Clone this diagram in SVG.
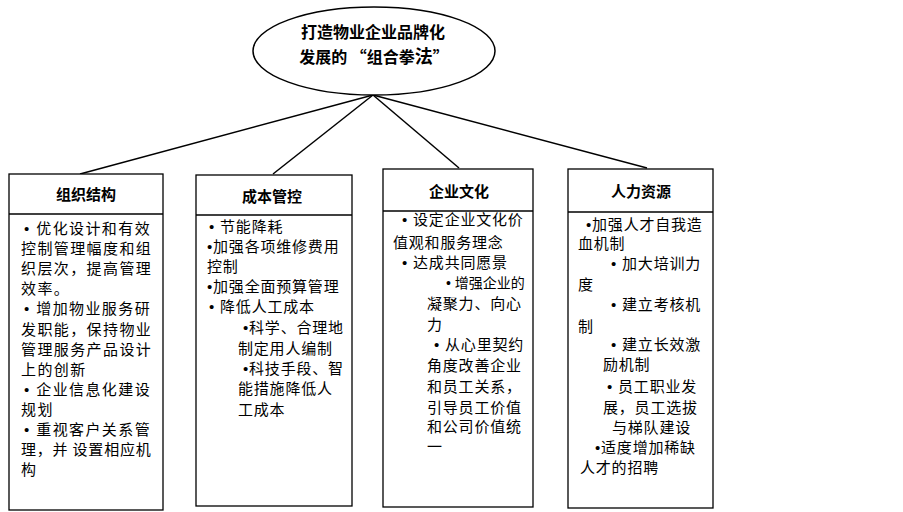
<svg xmlns="http://www.w3.org/2000/svg" width="903" height="512" viewBox="0 0 903 512">
<style>
text{font-family:"Noto Sans CJK SC","Liberation Sans",sans-serif;fill:#000}
.bl{font-family:"Liberation Sans",sans-serif}
.box{fill:#fff;stroke:#000;stroke-width:1.3}
.hd{font-size:15px;font-weight:bold;text-anchor:middle}
.t{font-size:15px}
.w1{letter-spacing:1.4px}
.w2{letter-spacing:0.8px}
.title{font-size:16px;font-weight:bold;text-anchor:middle}
.con{stroke:#000;stroke-width:1.5;fill:none}
</style>
<rect width="903" height="512" fill="#fff"/>
<g id="connectors">
<line class="con" x1="373" y1="95" x2="80" y2="174"/>
<line class="con" x1="373" y1="95" x2="273" y2="174"/>
<line class="con" x1="373" y1="95" x2="459" y2="168"/>
<line class="con" x1="373" y1="95" x2="647" y2="168"/>
</g>
<g id="root">
<ellipse cx="374" cy="51" rx="121" ry="44" fill="#fff" stroke="#000" stroke-width="1.5"/>
<text class="title" x="373" y="38">打造物业企业品牌化</text>
<text class="title" x="374" y="63">发展的 “组合拳<tspan font-size="18px">法</tspan>”</text>
</g>
<g id="node1">
<rect class="box" x="9" y="174" width="154" height="336"/>
<line class="box" x1="9" y1="214" x2="163" y2="214"/>
<text class="hd" x="86" y="200">组织结构</text>
<g class="t w1">
<text x="24" y="234"><tspan class="bl">• </tspan>优化设计和有效</text>
<text x="21" y="254">控制管理幅度和组</text>
<text x="21" y="274">织层次，提高管理</text>
<text x="21" y="294">效率。</text>
<text x="24" y="314"><tspan class="bl">• </tspan>增加物业服务研</text>
<text x="21" y="335">发职能，保持物业</text>
<text x="21" y="355">管理服务产品设计</text>
<text x="21" y="375">上的创新</text>
<text x="24" y="395"><tspan class="bl">• </tspan>企业信息化建设</text>
<text x="21" y="415">规划</text>
<text x="24" y="435"><tspan class="bl">• </tspan>重视客户关系管</text>
<text x="21" y="455" letter-spacing="0.8px">理，并 设置相应机</text>
<text x="21" y="475">构</text>
</g>
</g>
<g id="node2">
<rect class="box" x="196" y="175" width="156" height="331"/>
<line class="box" x1="196" y1="215" x2="352" y2="215"/>
<text class="hd" x="272" y="202">成本管控</text>
<g class="t w2">
<text x="209" y="232"><tspan class="bl">• </tspan>节能降耗</text>
<text x="207" y="252"><tspan class="bl">•</tspan>加强各项维修费用</text>
<text x="207" y="272">控制</text>
<text x="207" y="292"><tspan class="bl">•</tspan>加强全面预算管理</text>
<text x="209" y="312"><tspan class="bl">• </tspan>降低人工成本</text>
<text x="243" y="333"><tspan class="bl">•</tspan>科学、合理地</text>
<text x="238" y="354">制定用人编制</text>
<text x="243" y="374"><tspan class="bl">•</tspan>科技手段、智</text>
<text x="238" y="394">能措施降低人</text>
<text x="238" y="415">工成本</text>
</g>
</g>
<g id="node3">
<rect class="box" x="383" y="169" width="150" height="338"/>
<line class="box" x1="383" y1="211" x2="533" y2="211"/>
<text class="hd" x="459" y="197">企业文化</text>
<g class="t w2">
<text x="402" y="225"><tspan class="bl">• </tspan>设定企业文化价</text>
<text x="393" y="248">值观和服务理念</text>
<text x="402" y="268"><tspan class="bl">• </tspan>达成共同愿景</text>
<text x="446" y="288" font-size="14px" letter-spacing="0"><tspan class="bl">• </tspan>增强企业的</text>
<text x="427" y="309">凝聚力、向心</text>
<text x="427" y="330">力</text>
<text x="434" y="350"><tspan class="bl">• </tspan>从心里契约</text>
<text x="427" y="371">角度改善企业</text>
<text x="427" y="392">和员工关系，</text>
<text x="427" y="413">引导员工价值</text>
<text x="427" y="432">和公司价值统</text>
<text x="427" y="452">一</text>
</g>
</g>
<g id="node4">
<rect class="box" x="568" y="169" width="145" height="339"/>
<line class="box" x1="568" y1="212" x2="713" y2="212"/>
<text class="hd" x="641" y="197">人力资源</text>
<g class="t w2">
<text x="586" y="230"><tspan class="bl">•</tspan>加强人才自我造</text>
<text x="578" y="249">血机制</text>
<text x="611" y="269"><tspan class="bl">• </tspan>加大培训力</text>
<text x="578" y="290">度</text>
<text x="611" y="310"><tspan class="bl">• </tspan>建立考核机</text>
<text x="578" y="332">制</text>
<text x="611" y="350"><tspan class="bl">• </tspan>建立长效激</text>
<text x="603" y="370">励机制</text>
<text x="607" y="392"><tspan class="bl">• </tspan>员工职业发</text>
<text x="603" y="413">展，员工选拔</text>
<text x="612" y="433">与梯队建设</text>
<text x="595" y="453"><tspan class="bl">•</tspan>适度增加稀缺</text>
<text x="580" y="473">人才的招聘</text>
</g>
</g>
</svg>
